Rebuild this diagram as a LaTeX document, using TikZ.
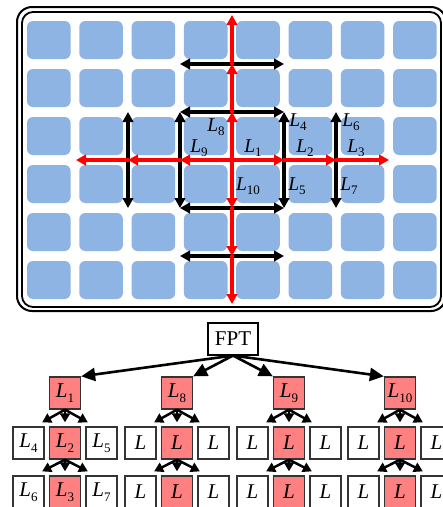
\documentclass[tikz,border=0pt]{standalone}
\usepackage{fontspec}
\setmainfont{Liberation Serif}
\usetikzlibrary{arrows.meta,calc}
\usepackage{tkz-euclide}
\definecolor{TileClr}{RGB}{142,180,227}
\definecolor{PathClr}{RGB}{255,0,0}
\definecolor{BoxClr}{RGB}{255,128,128}
\newcommand{\Ls}[1]{\textit{L}\raisebox{-0.22em}{\fontsize{13}{13}\selectfont #1}}
\newcommand{\Lp}{\textit{L}}

\tikzset{
  tile/.style={fill=TileClr,rounded corners=6pt},
  redarrow/.style={line width=3.6pt,color=PathClr,-{Triangle[length=10pt,width=10.5pt]}},
  blackarrow/.style={line width=3.2pt,color=black,-{Triangle[length=10pt,width=10.5pt]}},
  gridlabel/.style={font=\fontsize{19.5}{22}\selectfont,inner sep=0pt},
  wbox/.style={draw=black!80,line width=1.3pt,fill=white,minimum width=31pt,minimum height=32pt,inner sep=0pt,font=\fontsize{21}{24}\selectfont},
  pbox/.style={wbox,fill=BoxClr},
  toparrow/.style={line width=2.6pt,-{Triangle[length=14pt,width=13pt]}},
  treearrow/.style={line width=2.5pt,-{Triangle[length=9pt,width=10pt]}}
}

\begin{document}
\begin{tikzpicture}[x=1pt,y=-1pt]
\clip (0,0) rectangle (443,507);
\fill[white] (0,0) rectangle (443,507);

\draw[line width=2pt,rounded corners=15pt] (17,7) rectangle (446,311);
\draw[line width=1.8pt,rounded corners=11pt] (22,12) rectangle (441,307);

\foreach \i in {0,...,7}
  \foreach \j in {0,...,5}
    \fill[tile] (27+52.3*\i,21+48*\j) rectangle ++(43.6,38);

\tkzDefPoints{232/160/O,284/160/R1,336/160/R2,389/160/R3,180/160/W1,128/160/W2,76/160/W3}
\tkzDefPoints{232/112/U1,232/64/U2,232/15/U3,232/208/D1,232/256/D2,232/304/D3}
\tkzDefPoints{180/112/NW,284/112/NE,180/208/SW,284/208/SE}
\tkzDefPoints{336/112/A1,336/208/A2,128/112/B1,128/208/B2,180/64/C1,284/64/C2,180/256/E1,284/256/E2}

\tkzDrawSegments[blackarrow](R1,NE R1,SE R2,A1 R2,A2 W1,NW W1,SW W2,B1 W2,B2)
\tkzDrawSegments[blackarrow](U1,NW U1,NE U2,C1 U2,C2 D1,SW D1,SE D2,E1 D2,E2)
\tkzDrawSegments[redarrow](O,R1 R1,R2 R2,R3 O,W1 W1,W2 W2,W3)
\tkzDrawSegments[redarrow](O,U1 U1,U2 U2,U3 O,D1 D1,D2 D2,D3)

\node[gridlabel] (l8) at (216,127) {\Ls{8}};
\node[gridlabel] (l9) at (199,148) {\Ls{9}};
\node[gridlabel] (l1) at (253,148) {\Ls{1}};
\node[gridlabel] (l2) at (305,148) {\Ls{2}};
\node[gridlabel] (l3) at (356,148) {\Ls{3}};
\node[gridlabel] (l4) at (298,122) {\Ls{4}};
\node[gridlabel] (l6) at (351,122) {\Ls{6}};
\node[gridlabel] (l10) at (248,186) {\Ls{10}};
\node[gridlabel] (l5) at (297,186) {\Ls{5}};
\node[gridlabel] (l7) at (349,186) {\Ls{7}};

\node[wbox,draw=black,line width=1.1pt,minimum width=50pt] (FPT) at (233,339) {FPT};

\foreach \g/\x/\p/\ml/\mc/\mr/\bl/\bc/\br in {
  1/65/\Ls{1}/\Ls{4}/\Ls{2}/\Ls{5}/\Ls{6}/\Ls{3}/\Ls{7},
  2/177/\Ls{8}/\Lp/\Lp/\Lp/\Lp/\Lp/\Lp,
  3/289/\Ls{9}/\Lp/\Lp/\Lp/\Lp/\Lp/\Lp,
  4/400/\Ls{10}/\Lp/\Lp/\Lp/\Lp/\Lp/\Lp}{
  \node[pbox] (P\g) at (\x,393) {\p};
  \node[wbox] (A\g) at (\x-36.5,443) {\ml};
  \node[pbox] (B\g) at (\x,443) {\mc};
  \node[wbox] (C\g) at (\x+36.5,443) {\mr};
  \node[wbox] (D\g) at (\x-36.5,492) {\bl};
  \node[pbox] (E\g) at (\x,492) {\bc};
  \node[wbox] (F\g) at (\x+36.5,492) {\br};
  \draw[treearrow] (P\g.south) -- ($(A\g.north east)+(-2.5,-4)$);
  \draw[treearrow] (P\g.south) -- ($(B\g.north)+(0,-4)$);
  \draw[treearrow] (P\g.south) -- ($(C\g.north west)+(2.5,-4)$);
  \draw[treearrow] (B\g.south) -- ($(D\g.north east)+(-2.5,-4)$);
  \draw[treearrow] (B\g.south) -- ($(E\g.north)+(0,-4)$);
  \draw[treearrow] (B\g.south) -- ($(F\g.north west)+(2.5,-4)$);
}

\draw[toparrow] (FPT.south) -- (P1.north east);
\draw[toparrow] (FPT.south) -- (P2.north east);
\draw[toparrow] (FPT.south) -- (P3.north west);
\draw[toparrow] (FPT.south) -- (P4.north west);

\end{tikzpicture}
\end{document}
